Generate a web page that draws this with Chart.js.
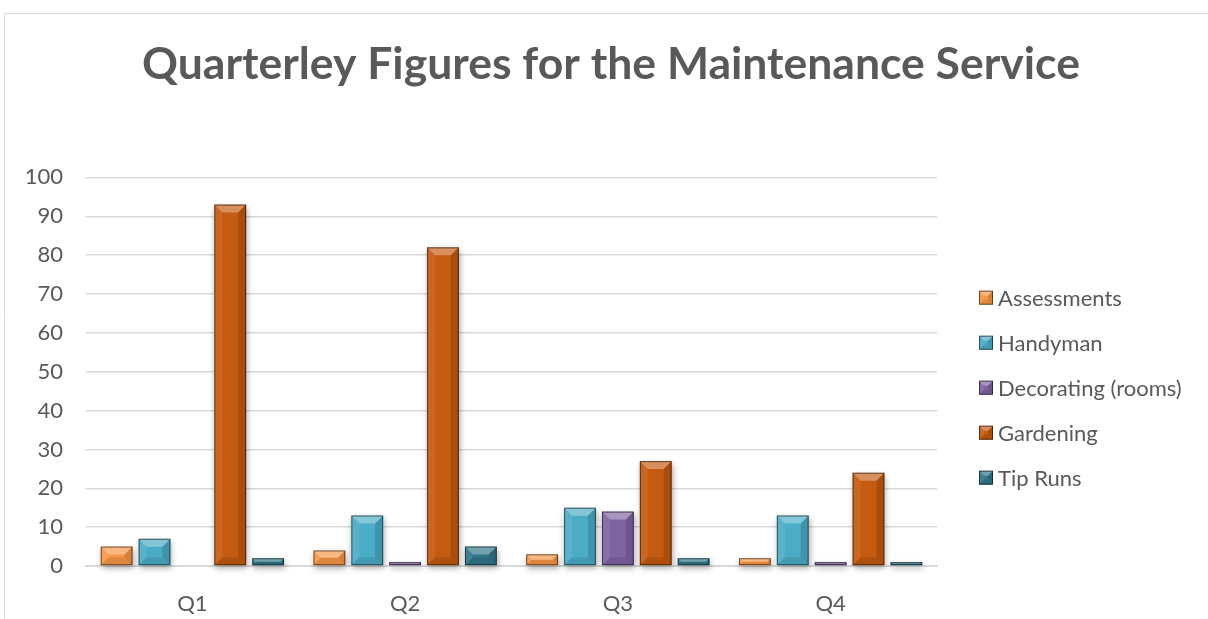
<!DOCTYPE html>
<html>
<head>
<meta charset="utf-8">
<script src="https://cdn.jsdelivr.net/npm/chart.js@4/dist/chart.umd.min.js"></script>
<style>
  html, body { margin: 0; padding: 0; background: #fff; }
  #wrap { position: relative; width: 1208px; height: 619px; }
</style>
</head>
<body>
<div id="wrap"><canvas id="chart"></canvas></div>
<script>
// Quarterly job counts per service
const quarters = ["Q1", "Q2", "Q3", "Q4"];
const assessments = [5, 4, 3, 2];
const handyman = [7, 13, 15, 13];
const decorating = [0, 1, 14, 1];
const gardening = [93, 82, 27, 24];
const tipRuns = [2, 5, 2, 1];

const seriesNames = ["Assessments", "Handyman", "Decorating (rooms)", "Gardening", "Tip Runs"];
const seriesValues = [assessments, handyman, decorating, gardening, tipRuns];
const seriesColors = ["#F79646", "#4BACC6", "#8064A2", "#C55A11", "#31768A"];

const textColor = "#595959";
const gridColor = "#d9d9d9";
const labelFont = { family: "Lato", size: 22 };

// shaded edges of a box so it reads as a raised bevel
function bevel(ctx, x0, y0, x1, y1, depth) {
  const w = x1 - x0, h = y1 - y0;
  const d = Math.min(depth, w / 2, h / 2);
  const quad = (pts, fill) => {
    ctx.fillStyle = fill;
    ctx.beginPath();
    ctx.moveTo(pts[0], pts[1]);
    for (let k = 2; k < pts.length; k += 2) ctx.lineTo(pts[k], pts[k + 1]);
    ctx.closePath();
    ctx.fill();
  };
  quad([x0, y0, x1, y0, x1 - d, y0 + d, x0 + d, y0 + d], "rgba(255,255,255,0.32)");
  quad([x0, y0, x0 + d, y0 + d, x0 + d, y1 - d, x0, y1], "rgba(255,255,255,0.08)");
  quad([x1, y0, x1 - d, y0 + d, x1 - d, y1 - d, x1, y1], "rgba(0,0,0,0.14)");
  quad([x0, y1, x0 + d, y1 - d, x1 - d, y1 - d, x1, y1], "rgba(0,0,0,0.10)");
  ctx.strokeStyle = "rgba(0,0,0,0.55)";
  ctx.lineWidth = 1;
  ctx.strokeRect(x0 + 0.5, y0 + 0.5, w - 1, h - 1);
}

function barBox(bar) {
  const p = bar.getProps(["x", "y", "base", "width"], true);
  return {
    x0: p.x - p.width / 2, x1: p.x + p.width / 2,
    y0: Math.min(p.y, p.base), y1: Math.max(p.y, p.base)
  };
}

// outer frame of the chart box
const framePlugin = {
  id: "frame",
  beforeDraw(chart) {
    const ctx = chart.ctx;
    ctx.save();
    ctx.strokeStyle = "#d9d9d9";
    ctx.lineWidth = 1;
    ctx.beginPath();
    ctx.moveTo(4.5, chart.height);
    ctx.lineTo(4.5, 13.5);
    ctx.lineTo(chart.width, 13.5);
    ctx.stroke();
    ctx.restore();
  }
};

// soft shadow under the bars, then the bevel on top of them
const bevelPlugin = {
  id: "bevel",
  beforeDatasetsDraw(chart) {
    const ctx = chart.ctx;
    ctx.save();
    ctx.shadowColor = "rgba(0,0,0,0.35)";
    ctx.shadowBlur = 6;
    ctx.shadowOffsetX = 1;
    ctx.shadowOffsetY = 3;
    ctx.fillStyle = "#fff";
    chart.data.datasets.forEach((ds, i) => {
      chart.getDatasetMeta(i).data.forEach((bar) => {
        const b = barBox(bar);
        if (b.y1 - b.y0 < 0.5) return;
        ctx.fillRect(b.x0, b.y0, b.x1 - b.x0, b.y1 - b.y0);
      });
    });
    ctx.restore();
  },
  afterDatasetsDraw(chart) {
    const ctx = chart.ctx;
    ctx.save();
    chart.data.datasets.forEach((ds, i) => {
      chart.getDatasetMeta(i).data.forEach((bar) => {
        const b = barBox(bar);
        if (b.y1 - b.y0 < 0.5) return;
        bevel(ctx, b.x0, b.y0, b.x1, b.y1, 8);
      });
    });
    ctx.restore();
  }
};

// legend to the right of the plot, one row per dataset
const legendPlugin = {
  id: "sideLegend",
  afterDraw(chart) {
    const ctx = chart.ctx;
    const area = chart.chartArea;
    const rowGap = 45;
    const n = chart.data.datasets.length;
    const x = area.right + 42;
    let y = (area.top + area.bottom) / 2 + 16 - rowGap * (n - 1) / 2;
    ctx.save();
    ctx.font = labelFont.size + "px " + labelFont.family;
    ctx.textBaseline = "middle";
    ctx.textAlign = "left";
    chart.data.datasets.forEach((ds) => {
      ctx.fillStyle = ds.backgroundColor;
      ctx.fillRect(x, y - 7, 14, 14);
      bevel(ctx, x, y - 7, x + 14, y + 7, 5);
      ctx.fillStyle = textColor;
      ctx.fillText(ds.label, x + 19, y + 1);
      y += rowGap;
    });
    ctx.restore();
  }
};

const datasets = seriesNames.map((name, i) => ({
  label: name,
  data: seriesValues[i],
  backgroundColor: seriesColors[i],
  borderWidth: 0,
  categoryPercentage: 0.89,
  barPercentage: 0.84
}));

function drawChart() {
  new Chart(document.getElementById("chart"), {
    type: "bar",
    data: { labels: quarters, datasets: datasets },
    plugins: [framePlugin, bevelPlugin, legendPlugin],
    options: {
      responsive: true,
      maintainAspectRatio: false,
      animation: false,
      layout: { padding: { left: 14, right: 0, top: 38, bottom: 0 } },
      plugins: {
        title: {
          display: true,
          text: "Quarterley Figures for the Maintenance Service",
          color: textColor,
          font: { family: "Lato", size: 44.5, weight: "bold" },
          padding: { top: 0, bottom: 86 }
        },
        legend: { display: false },
        tooltip: { enabled: false }
      },
      scales: {
        x: {
          grid: { display: false, drawTicks: false },
          border: { color: gridColor, width: 2 },
          ticks: { color: textColor, font: labelFont, padding: 25 },
          afterFit(scale) { scale.height = 53; }
        },
        y: {
          min: 0,
          max: 100,
          ticks: { stepSize: 10, color: textColor, font: labelFont, padding: 23 },
          grid: { color: gridColor, lineWidth: 1.5, drawTicks: false },
          border: { display: false },
          afterFit(scale) { scale.width = 72; }
        },
        // empty axis that leaves room for the legend on the right
        side: {
          position: "right",
          display: true,
          grid: { display: false, drawTicks: false },
          border: { display: false },
          ticks: { display: false },
          afterFit(scale) { scale.width = 271; }
        }
      }
    }
  });
}

Promise.all([
  document.fonts.load("22px Lato"),
  document.fonts.load("bold 44px Lato")
]).then(drawChart, drawChart);
</script>
</body>
</html>
